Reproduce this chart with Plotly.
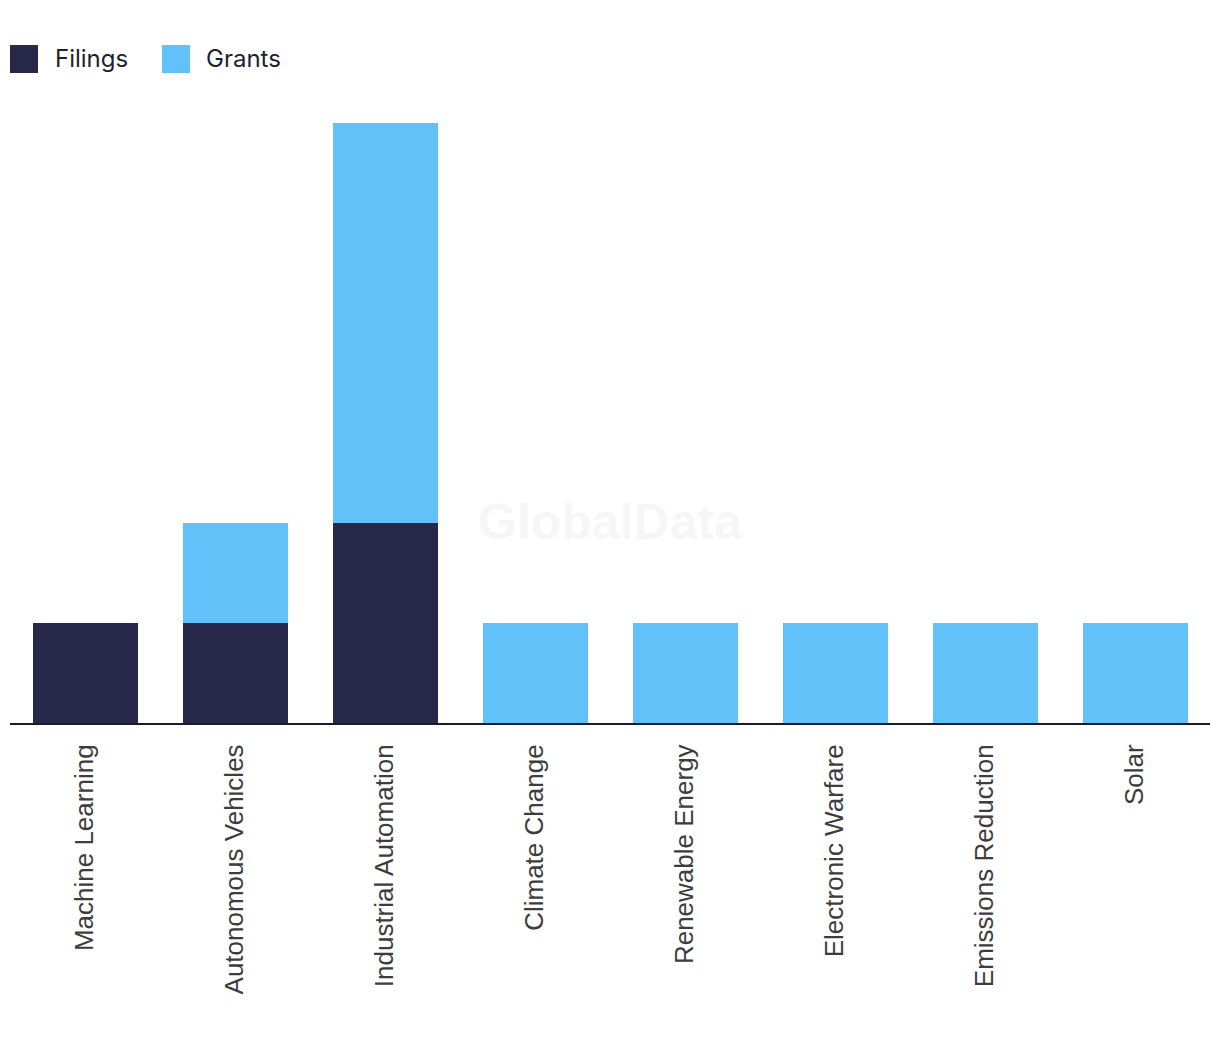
import plotly.graph_objects as go

categories = ["Machine Learning", "Autonomous Vehicles", "Industrial Automation",
              "Climate Change", "Renewable Energy", "Electronic Warfare",
              "Emissions Reduction", "Solar"]
filings = [1, 1, 2, 0, 0, 0, 0, 0]
grants = [0, 1, 4, 1, 1, 1, 1, 1]

NAVY = "#28284b"
SKY = "#63c1f9"

fig = go.Figure()
fig.add_trace(go.Bar(x=categories, y=filings, name="Filings", marker_color=NAVY,
                     marker_line_width=0, showlegend=False))
fig.add_trace(go.Bar(x=categories, y=grants, name="Grants", marker_color=SKY,
                     marker_line_width=0, showlegend=False))

# hand-made legend so the swatches can be big squares
legend_items = [("Filings", NAVY, 10, 53), ("Grants", SKY, 162, 204)]
for label, col, sx, tx in legend_items:
    fig.add_shape(type="rect", xref="paper", yref="paper",
                  x0=(sx - 10) / 1200, x1=(sx + 18) / 1200,
                  y0=1 + (123 - 73) / 600, y1=1 + (123 - 45) / 600,
                  fillcolor=col, line_width=0)
    fig.add_annotation(text=label, xref="paper", yref="paper",
                       x=(tx - 10) / 1200, y=1 + (123 - 59) / 600,
                       xanchor="left", yanchor="middle", showarrow=False,
                       font=dict(family="Inter, Roboto, sans-serif", size=24, color="#1e1f33"))

# watermark
fig.add_annotation(text="<b>GlobalData</b>", xref="paper", yref="paper",
                   x=0.5, y=(723 - 522) / 600, showarrow=False,
                   font=dict(family="Liberation Sans, Arial, sans-serif", size=50, color="#f6f6f6"))

fig.update_layout(
    barmode="stack",
    bargap=0.3,
    width=1204, height=1026,
    margin=dict(l=2, r=2, t=115, b=311),
    plot_bgcolor="white",
    paper_bgcolor="white",
    font=dict(family="Liberation Sans, Arial, sans-serif"),
    xaxis=dict(
        tickangle=-90,
        tickfont=dict(size=26, color="#3d3d3d"),
        showline=True, linecolor="#1a1a2e", linewidth=2,
        showgrid=False, ticks="", ticklabelstandoff=9,
    ),
    yaxis=dict(range=[0, 6], visible=False, showgrid=False),
)

fig.write_html("out.html")
